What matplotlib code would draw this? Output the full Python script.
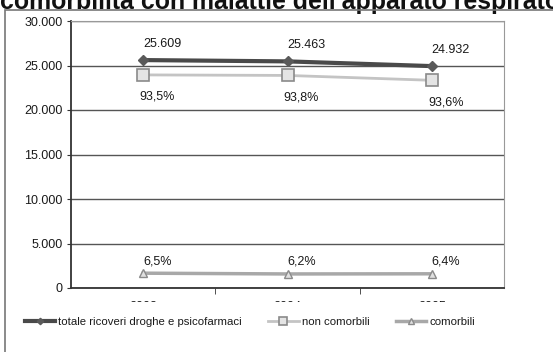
import numpy as np
import matplotlib.pyplot as plt
from matplotlib.patches import Rectangle

# data
years = ['2003', '2004', '2005']
totale = [25609, 25463, 24932]
non_comorbili = [23944, 23884, 23336]
comorbili = [1665, 1579, 1596]
pct_non = ['93,5%', '93,8%', '93,6%']
pct_com = ['6,5%', '6,2%', '6,4%']

plt.rcParams['font.family'] = ['Liberation Sans', 'DejaVu Sans']

W, H = 553, 352
fig = plt.figure(figsize=(W / 100, H / 100), dpi=100)
ax = fig.add_axes([71 / W, 1 - 288 / H, 433 / W, 267 / H])

x = np.arange(len(years))

ax.plot(x, totale, color='#4a4a4a', lw=3, marker='D', ms=5,
        mfc='#5a5a5a', mec='#5a5a5a', label='totale ricoveri droghe e psicofarmaci', zorder=4)
ax.plot(x, non_comorbili, color='#c4c4c4', lw=2, marker='s', ms=9,
        mfc='#e4e4e4', mec='#8a8a8a', mew=1.2, label='non comorbili', zorder=3)
ax.plot(x, comorbili, color='#a8a8a8', lw=2.5, marker='^', ms=6,
        mfc='#e0e0e0', mec='#8a8a8a', mew=1, label='comorbili', zorder=3)

# value labels
for i in range(len(years)):
    ax.annotate(f'{totale[i]:,}'.replace(',', '.'), (x[i], totale[i]),
                xytext=(19, 16), textcoords='offset pixels',
                ha='center', va='center', fontsize=9, color='#1a1a1a')
    ax.annotate(pct_non[i], (x[i], non_comorbili[i]),
                xytext=(14, -22), textcoords='offset pixels',
                ha='center', va='center', fontsize=9, color='#1a1a1a')
    ax.annotate(pct_com[i], (x[i], comorbili[i]),
                xytext=(14, 12), textcoords='offset pixels',
                ha='center', va='center', fontsize=9, color='#1a1a1a')

ax.set_xlim(-0.5, 2.5)
ax.set_ylim(0, 30000)
ax.set_yticks(np.arange(0, 30001, 5000))
ax.set_yticklabels([f'{v:,}'.replace(',', '.') for v in range(0, 30001, 5000)],
                   fontsize=9, color='#1a1a1a')
ax.set_xticks(x)
ax.set_xticklabels(years, fontsize=9, color='#1a1a1a')
ax.tick_params(axis='x', length=0, pad=9)
ax.set_xticks([0.5, 1.5], minor=True)
ax.tick_params(axis='x', which='minor', length=4, direction='out', color='#333333')
ax.tick_params(axis='y', length=3, direction='out', color='#333333', pad=3)

ax.grid(axis='y', color='#555555', lw=1)
ax.set_axisbelow(True)
for side in ['top', 'right']:
    ax.spines[side].set_color('#999999')
for side in ['left', 'bottom']:
    ax.spines[side].set_color('#333333')
    ax.spines[side].set_linewidth(1.3)

# white band clipping the year labels
fig.patches.append(Rectangle((0.015, 1 - 314 / H), 0.98, 12 / H,
                             transform=fig.transFigure, facecolor='white',
                             edgecolor='none', zorder=5))

# outer frame
fig.patches.append(Rectangle((5 / W, -0.1), 1.2, 1 - 10 / H + 0.1,
                             transform=fig.transFigure, fill=False,
                             edgecolor='#777777', lw=1.2, zorder=6))

leg = fig.legend(loc='center left', bbox_to_anchor=(20 / W, 1 - 322 / H), ncol=3,
                 frameon=False, fontsize=8.2, handlelength=2.7, columnspacing=2.3,
                 handletextpad=0.25, borderaxespad=0, markerscale=0.65)
leg.set_zorder(7)
for t in leg.get_texts():
    t.set_color('#1a1a1a')

fig.text(0, 1 - 8.5 / H, "comorbilità con malattie dell'apparato respiratorio",
         fontsize=17.9, fontweight='bold', ha='left', va='baseline', color='#111111')

fig.savefig('out.png', dpi=100)
